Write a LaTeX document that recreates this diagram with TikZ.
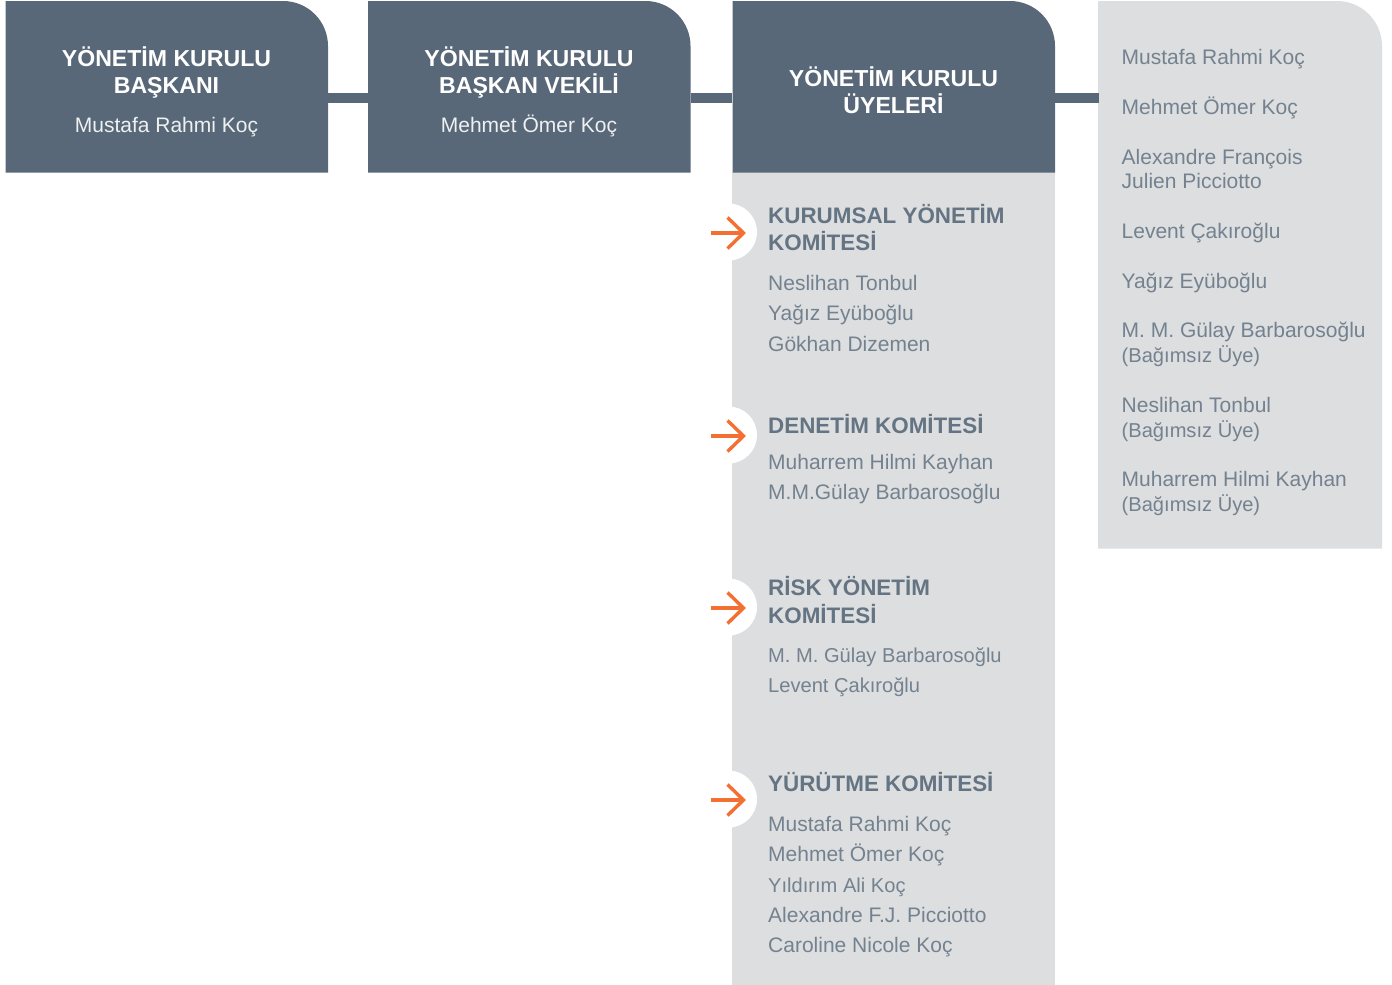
\documentclass[tikz,border=0pt]{standalone}
\usepackage{fontspec}
\setmainfont{Liberation Sans}
\usetikzlibrary{calc}
\definecolor{slateb}{HTML}{586878}
\definecolor{pale}{HTML}{DCDEE0}
\definecolor{txt}{HTML}{74828F}
\definecolor{orng}{HTML}{F37032}
\tikzset{x=1pt,y=-1pt,
 bar/.style={draw=slateb,line width=10pt},
 headtxt/.style={anchor=base,align=center,text=white,font=\fontsize{23.1}{27}\selectfont\bfseries,inner sep=0pt},
 bosstxt/.style={anchor=base,text=white!90!slateb,font=\fontsize{21}{26}\selectfont,inner sep=0pt},
 ctitle/.style={anchor=base west,text=slateb!92!white,font=\fontsize{22.4}{27}\selectfont\bfseries,inner sep=0pt},
 nametxt/.style={anchor=base west,text=txt,font=\fontsize{21}{26}\selectfont,inner sep=0pt},
 nametight/.style={nametxt,font=\fontsize{20.1}{26}\selectfont},
 arrowc/.style={draw=orng,line width=3.4pt},
 notch/.style={fill=white,draw=none,circle,minimum size=57pt,inner sep=0pt}}
\newcommand{\tabbox}[6]{% name x0 y0 x1 y1 colour
 \fill[#6] (#2,#5) -- (#2,#3) -- (#4-45,#3) arc[start angle=-90,end angle=0,radius=45] -- (#4,#5) -- cycle;
 \node[inner sep=0pt,minimum width=#4pt-#2pt,minimum height=#5pt-#3pt] (#1) at ({(#2+#4)/2},{(#3+#5)/2}) {};}
\begin{document}
\begin{tikzpicture}
\useasboundingbox (0,0) rectangle (1392,985);
\fill[pale] (732,172) rectangle (1055,985);
\tabbox{b1}{5.5}{1}{328}{172.5}{slateb}
\tabbox{b2}{368}{1}{690.5}{172.5}{slateb}
\tabbox{b3}{732.5}{1}{1055}{172.5}{slateb}
\tabbox{b4}{1098}{1}{1382}{548.5}{pale}
\coordinate (barY) at (0,98);
\draw[bar] (b1.east |- barY) -- (b2.west |- barY);
\draw[bar] (b2.east |- barY) -- (b3.west |- barY);
\draw[bar,shorten >=-1pt] (b3.east |- barY) -- (b4.west |- barY);
% titles
\node[headtxt] (t1a) at (166.5,66) {YÖNETİM KURULU};
\node[headtxt] (t1b) at (166.5,93) {BAŞKANI};
\node[bosstxt] (t1c) at (166.5,132) {Mustafa Rahmi Koç};
\node[headtxt] (t2a) at (529,66) {YÖNETİM KURULU};
\node[headtxt] (t2b) at (529,93) {BAŞKAN VEKİLİ};
\node[bosstxt] (t2c) at (529,132) {Mehmet Ömer Koç};
\node[headtxt] (t3a) at (893.5,86) {YÖNETİM KURULU};
\node[headtxt] (t3b) at (893.5,113) {ÜYELERİ};
% right list
\node[nametxt] (r1) at (1121.5,64) {Mustafa Rahmi Koç};
\node[nametxt] (r2) at (1121.5,114) {Mehmet Ömer Koç};
\node[nametxt] (r3) at (1121.5,164) {Alexandre François};
\node[nametxt] (r3b) at (1121.5,188) {Julien Picciotto};
\node[nametxt] (r4) at (1121.5,238) {Levent Çakıroğlu};
\node[nametxt] (r5) at (1121.5,288) {Yağız Eyüboğlu};
\node[nametxt] (r6) at (1121.5,337) {M. M. Gülay Barbarosoğlu};
\node[nametight] (r6b) at (1121.5,362) {(Bağımsız Üye)};
\node[nametxt] (r7) at (1121.5,412) {Neslihan Tonbul};
\node[nametight] (r7b) at (1121.5,437) {(Bağımsız Üye)};
\node[nametxt] (r8) at (1121.5,486) {Muharrem Hilmi Kayhan};
\node[nametight] (r8b) at (1121.5,511) {(Bağımsız Üye)};
% notches and arrows
\foreach \i/\yy in {1/232,2/435,3/607,4/799}{
 \node[notch] (n\i) at (728.5,\yy) {};
 \coordinate (tail\i) at ($(n\i.center)+(-17.5,1)$);
 \coordinate (tip\i) at ($(n\i.center)+(15,1)$);
 \coordinate (up\i) at ($(tip\i)+(-16,-15.5)$);
 \coordinate (dn\i) at ($(tip\i)+(-16,15.5)$);
 \draw[arrowc] (tail\i) -- (tip\i);
 \draw[arrowc] (up\i) -- (tip\i) -- (dn\i);
}
% committees
\node[ctitle] (c1a) at (768,223.5) {KURUMSAL YÖNETİM};
\node[ctitle] (c1b) at (768,250.5) {KOMİTESİ};
\node[nametxt] (c1c) at (768,290) {Neslihan Tonbul};
\node[nametxt] (c1d) at (768,320) {Yağız Eyüboğlu};
\node[nametxt] (c1e) at (768,351) {Gökhan Dizemen};
\node[ctitle] (c2a) at (768,433.5) {DENETİM KOMİTESİ};
\node[nametxt] (c2b) at (768,469) {Muharrem Hilmi Kayhan};
\node[nametxt] (c2c) at (768,499) {M.M.Gülay Barbarosoğlu};
\node[ctitle] (c3a) at (768,595.5) {RİSK YÖNETİM};
\node[ctitle] (c3b) at (768,623.5) {KOMİTESİ};
\node[nametight] (c3c) at (768,662) {M. M. Gülay Barbarosoğlu};
\node[nametight] (c3d) at (768,692) {Levent Çakıroğlu};
\node[ctitle] (c4a) at (768,791.5) {YÜRÜTME KOMİTESİ};
\node[nametxt] (c4b) at (768,831) {Mustafa Rahmi Koç};
\node[nametxt] (c4c) at (768,861) {Mehmet Ömer Koç};
\node[nametight] (c4d) at (768,892) {Yıldırım Ali Koç};
\node[nametxt] (c4e) at (768,922) {Alexandre F.J. Picciotto};
\node[nametxt] (c4f) at (768,952) {Caroline Nicole Koç};
\end{tikzpicture}
\end{document}
